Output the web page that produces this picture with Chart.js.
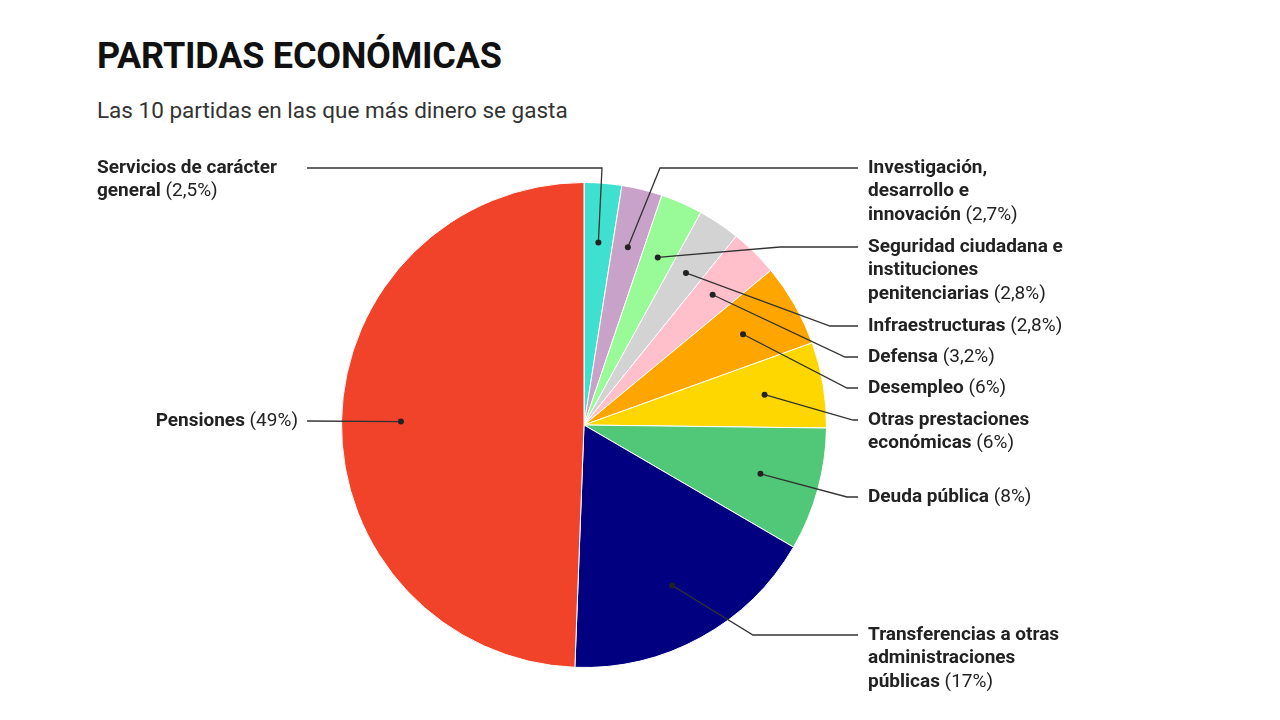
<!DOCTYPE html>
<html>
<head>
<meta charset="utf-8">
<script src="https://cdn.jsdelivr.net/npm/chart.js"></script>
<style>
  body { margin: 0; background: #fff; font-family: Roboto, sans-serif; }
  #wrap { position: relative; width: 1280px; height: 720px; }
  h1 { position: absolute; left: 97px; top: 35px; margin: 0; font-size: 36px; font-weight: 700; color: #111; letter-spacing: -0.2px; }
  p.sub { position: absolute; left: 97px; top: 97px; margin: 0; font-size: 22.5px; color: #333; }
  canvas { position: absolute; left: 0; top: 0; }
</style>
</head>
<body>
<div id="wrap">
  <h1>PARTIDAS ECONÓMICAS</h1>
  <p class="sub">Las 10 partidas en las que más dinero se gasta</p>
  <canvas id="pie" width="1280" height="720"></canvas>
</div>
<script>
// categories (multi-line as they are wrapped in the labels)
const categories = [
  ["Servicios de carácter", "general"],
  ["Investigación,", "desarrollo e", "innovación"],
  ["Seguridad ciudadana e", "instituciones", "penitenciarias"],
  ["Infraestructuras"],
  ["Defensa"],
  ["Desempleo"],
  ["Otras prestaciones", "económicas"],
  ["Deuda pública"],
  ["Transferencias a otras", "administraciones", "públicas"],
  ["Pensiones"]
];
// share of spending, % (big ones are shown rounded in the labels)
const shares = [2.5, 2.7, 2.8, 2.8, 3.2, 5.5, 5.7, 8.2, 17.2, 49.4];
const colors = ["#40E0D0", "#C8A2C8", "#98FB98", "#D3D3D3", "#FFC0CB",
                "#FFA500", "#FFD700", "#50C878", "#000080", "#F0432A"];

// where each label sits: text anchor, side and the elbow of its leader line
const labelLayout = [
  { x: 97,  y: 168, side: "left",  lineEnd: 307, elbowX: 602 },
  { x: 868, y: 168, side: "right", lineEnd: 858, elbowX: 660 },
  { x: 868, y: 247, side: "right", lineEnd: 858, elbowX: 780 },
  { x: 868, y: 326, side: "right", lineEnd: 858, elbowX: 830 },
  { x: 868, y: 357, side: "right", lineEnd: 858, elbowX: 845 },
  { x: 868, y: 388, side: "right", lineEnd: 858, elbowX: 847 },
  { x: 868, y: 420, side: "right", lineEnd: 858, elbowX: 853 },
  { x: 868, y: 497, side: "right", lineEnd: 858, elbowX: 847 },
  { x: 868, y: 635, side: "right", lineEnd: 858, elbowX: 753 },
  { x: 298, y: 421, side: "left-right", lineEnd: 307, elbowX: 307 }
];

function pct(v) {
  const shown = v < 5 ? v : Math.round(v);
  return "(" + shown.toLocaleString("es-ES") + "%)";
}

const leaderLabels = {
  id: "leaderLabels",
  afterDraw(chart) {
    const ctx = chart.ctx;
    const meta = chart.getDatasetMeta(0);
    const lineH = 23.5;
    ctx.save();
    meta.data.forEach((arc, i) => {
      const p = arc.getProps(["x", "y", "startAngle", "endAngle", "outerRadius"], true);
      const mid = (p.startAngle + p.endAngle) / 2;
      const r = p.outerRadius * 0.755;
      const dx = p.x + Math.cos(mid) * r;
      const dy = p.y + Math.sin(mid) * r;
      const lay = labelLayout[i];

      // leader line
      ctx.strokeStyle = "#333";
      ctx.lineWidth = 1.3;
      ctx.beginPath();
      ctx.moveTo(dx, dy);
      ctx.lineTo(lay.elbowX, lay.y);
      ctx.lineTo(lay.lineEnd, lay.y);
      ctx.stroke();
      ctx.fillStyle = "#222";
      ctx.beginPath();
      ctx.arc(dx, dy, 3, 0, Math.PI * 2);
      ctx.fill();

      // text
      const lines = categories[i];
      const boldFont = "bold 19px Roboto";
      const regFont = "19px Roboto";
      ctx.textBaseline = "middle";
      ctx.fillStyle = "#222";
      lines.forEach((ln, j) => {
        const y = lay.y + j * lineH;
        const last = j === lines.length - 1;
        ctx.font = boldFont;
        const wb = ctx.measureText(ln + (last ? " " : "")).width;
        ctx.font = regFont;
        const wp = last ? ctx.measureText(pct(shares[i])).width : 0;
        let x = lay.x;
        if (lay.side === "left-right") x = lay.x - wb - wp;
        ctx.textAlign = "left";
        ctx.font = boldFont;
        ctx.fillText(ln, x, y);
        if (last) {
          ctx.font = regFont;
          ctx.fillText(pct(shares[i]), x + wb, y);
        }
      });
    });
    ctx.restore();
  }
};

new Chart("pie", {
  type: "pie",
  data: {
    labels: categories,
    datasets: [{
      data: shares,
      backgroundColor: colors,
      borderColor: "#fff",
      borderWidth: 1
    }]
  },
  options: {
    responsive: false,
    animation: false,
    layout: { padding: { top: 182, bottom: 52, left: 341, right: 453 } },
    plugins: {
      legend: { display: false },
      tooltip: { enabled: false }
    }
  },
  plugins: [leaderLabels]
});
</script>
</body>
</html>
